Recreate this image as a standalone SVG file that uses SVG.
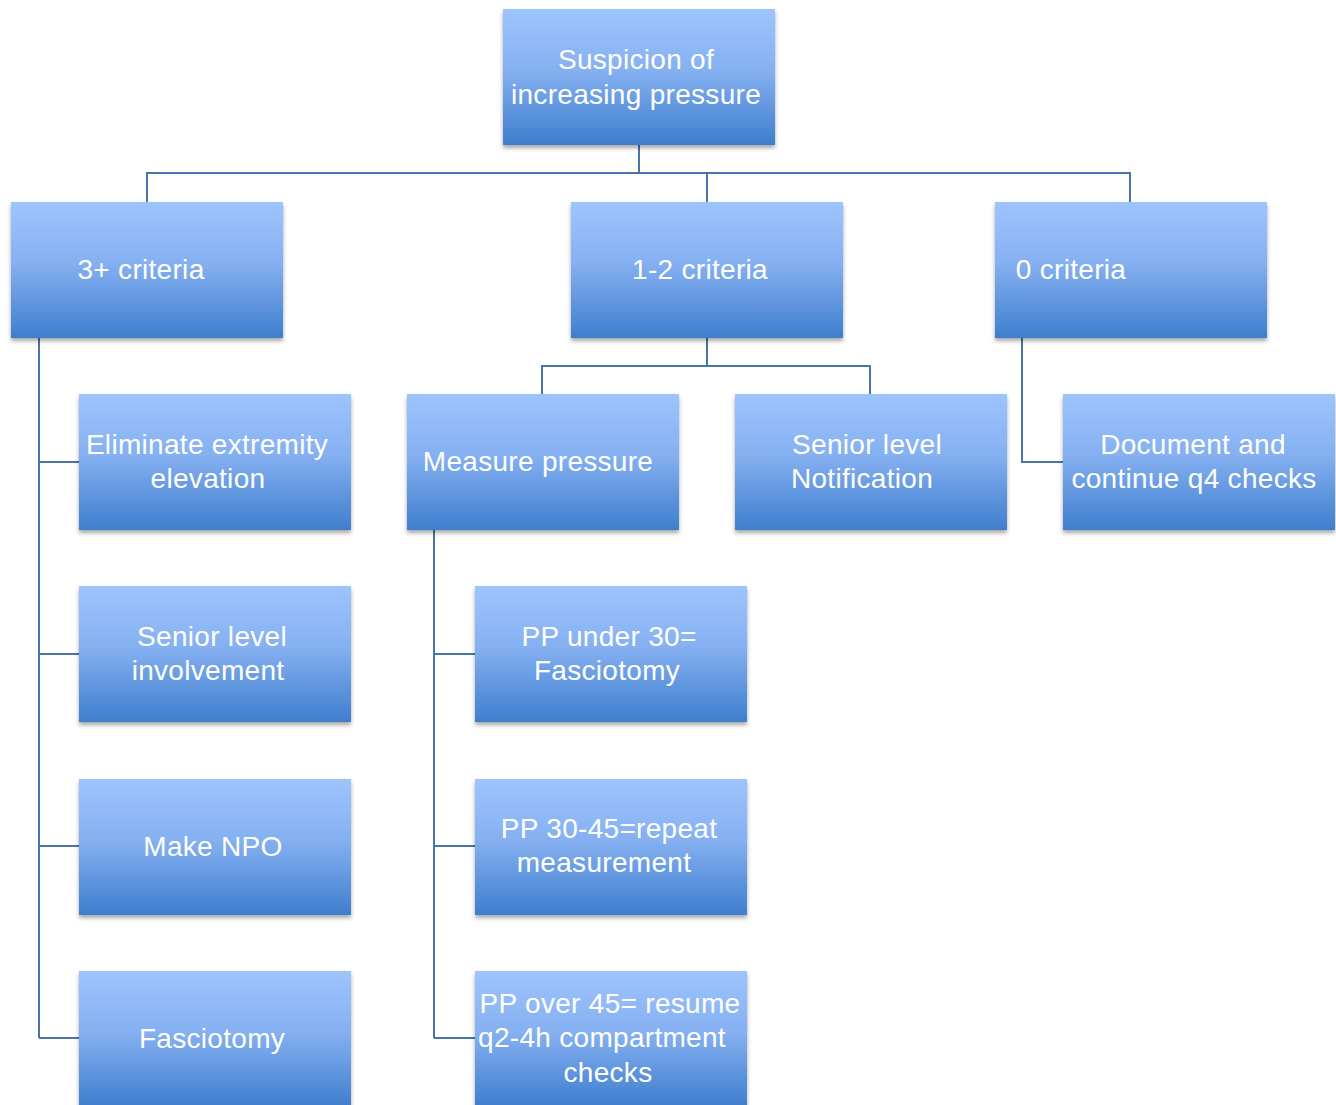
<svg xmlns="http://www.w3.org/2000/svg" width="1336" height="1105" viewBox="0 0 1336 1105">
<style>
.box{fill:url(#g);filter:url(#sh)}
.t{font-family:"Liberation Sans",Arial,Helvetica,sans-serif;font-size:28px;fill:#ffffff;text-anchor:middle;letter-spacing:0.3px}
.c{fill:none;stroke:#4a73aa;stroke-width:2}
</style>
<defs>
<linearGradient id="g" x1="0" y1="0" x2="0" y2="1">
<stop offset="0" stop-color="#9ec4fd"/>
<stop offset="0.45" stop-color="#85b0f1"/>
<stop offset="1" stop-color="#3e7ecd"/>
</linearGradient>
<filter id="sh" x="-10%" y="-10%" width="120%" height="130%">
<feDropShadow dx="0" dy="3" stdDeviation="2" flood-color="#000" flood-opacity="0.35"/>
</filter>
</defs>
<rect width="1336" height="1105" fill="#ffffff"/>
<g id="connectors">
<path class="c" d="M639 145V173M147 202V173H1130V202M707 173V202"/>
<path class="c" d="M39 338V1038M39 462H79M39 654H79M39 846H79M39 1038H79"/>
<path class="c" d="M707 338V366M542 394V366H870V394"/>
<path class="c" d="M1022 338V462H1063"/>
<path class="c" d="M434 530V1038M434 654H475M434 846H475M434 1038H475"/>
</g>
<g id="n-root"><rect class="box" x="503" y="9" width="272" height="136"/><text class="t" x="636" y="69">Suspicion of</text><text class="t" x="636" y="104">increasing pressure</text></g>
<g id="n-3plus"><rect class="box" x="11" y="202" width="272" height="136"/><text class="t" x="141" y="279">3+ criteria</text></g>
<g id="n-12"><rect class="box" x="571" y="202" width="272" height="136"/><text class="t" x="700" y="279">1-2 criteria</text></g>
<g id="n-0"><rect class="box" x="995" y="202" width="272" height="136"/><text class="t" x="1071" y="279">0 criteria</text></g>
<g id="n-elim"><rect class="box" x="79" y="394" width="272" height="136"/><text class="t" x="207" y="454">Eliminate extremity</text><text class="t" x="208" y="488">elevation</text></g>
<g id="n-measure"><rect class="box" x="407" y="394" width="272" height="136"/><text class="t" x="538" y="471">Measure pressure</text></g>
<g id="n-notif"><rect class="box" x="735" y="394" width="272" height="136"/><text class="t" x="867" y="454">Senior level</text><text class="t" x="862" y="488">Notification</text></g>
<g id="n-doc"><rect class="box" x="1063" y="394" width="272" height="136"/><text class="t" x="1193" y="454">Document and</text><text class="t" x="1194" y="488">continue q4 checks</text></g>
<g id="n-involve"><rect class="box" x="79" y="586" width="272" height="136"/><text class="t" x="212" y="646">Senior level</text><text class="t" x="208" y="680">involvement</text></g>
<g id="n-pp30"><rect class="box" x="475" y="586" width="272" height="136"/><text class="t" x="609" y="646">PP under 30=</text><text class="t" x="607" y="680">Fasciotomy</text></g>
<g id="n-npo"><rect class="box" x="79" y="779" width="272" height="136"/><text class="t" x="213" y="856">Make NPO</text></g>
<g id="n-pp3045"><rect class="box" x="475" y="779" width="272" height="136"/><text class="t" x="609" y="838">PP 30-45=repeat</text><text class="t" x="604" y="872">measurement</text></g>
<g id="n-fasc"><rect class="box" x="79" y="971" width="272" height="136"/><text class="t" x="212" y="1048">Fasciotomy</text></g>
<g id="n-pp45"><rect class="box" x="475" y="971" width="272" height="136"/><text class="t" x="610" y="1013">PP over 45= resume</text><text class="t" x="602" y="1047">q2-4h compartment</text><text class="t" x="608" y="1082">checks</text></g>
</svg>
